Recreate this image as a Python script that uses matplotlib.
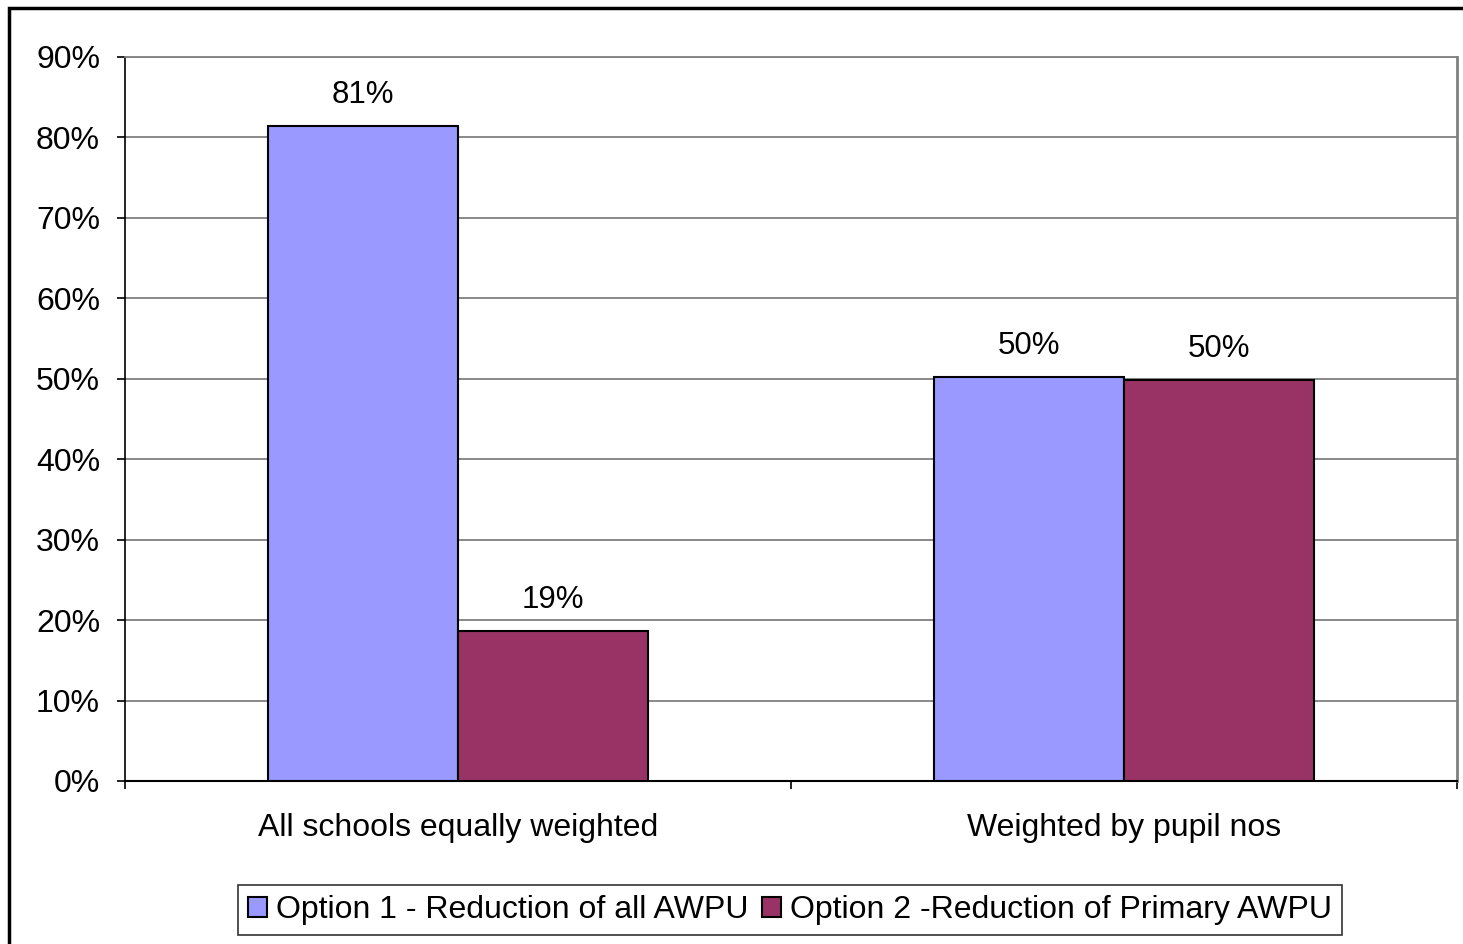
import matplotlib.pyplot as plt
import matplotlib.patches as patches
import numpy as np

plt.rcParams['font.family'] = ['Liberation Sans', 'DejaVu Sans']

# data
categories = ['All schools equally weighted', 'Weighted by pupil nos']
series_names = ['Option 1 - Reduction of all AWPU', 'Option 2 -Reduction of Primary AWPU']
option1 = [0.814, 0.502]
option2 = [0.186, 0.498]
colors = ['#9999FF', '#993366']
yticks = np.arange(0, 1.0, 0.1)

fig = plt.figure(figsize=(14.63, 9.44), dpi=100)
ax = fig.add_axes([125 / 1463, 1 - 781 / 944, 1332 / 1463, 724 / 944])

x = np.arange(len(categories))
w = 1 / 3.5
for vals, off, col, name in [(option1, -w / 2, colors[0], series_names[0]),
                             (option2, w / 2, colors[1], series_names[1])]:
    bars = ax.bar(x + off, vals, width=w, color=col, edgecolor='black',
                  linewidth=1.5, label=name, zorder=3)
    for b, v in zip(bars, vals):
        ax.annotate('%d%%' % round(v * 100), (b.get_x() + b.get_width() / 2, v),
                    xytext=(0, 17), textcoords='offset points',
                    ha='center', va='baseline', fontsize=22.5)

ax.set_xlim(-0.5, 1.5)
ax.set_ylim(0, 0.9)
ax.set_yticks(yticks)
ax.set_yticklabels(['%d%%' % round(t * 100) for t in yticks], fontsize=23)
ax.yaxis.grid(True, color='#808080', linewidth=1.3, zorder=0)
ax.tick_params(axis='y', direction='out', length=6, width=1.2, pad=12)

ax.set_xticks(x)
ax.set_xticklabels(categories, fontsize=23)
ax.set_xticks([-0.5, 0.5, 1.5], minor=True)
ax.tick_params(axis='x', which='major', length=0, pad=23)
ax.tick_params(axis='x', which='minor', direction='out', length=6, width=1.2)

ax.spines['left'].set_color('black')
ax.spines['bottom'].set_color('black')
ax.spines['left'].set_linewidth(1.2)
ax.spines['bottom'].set_linewidth(1.5)
ax.spines['top'].set_color('#808080')
ax.spines['right'].set_color('#808080')
ax.spines['top'].set_linewidth(1.3)
ax.spines['right'].set_linewidth(2)

leg = fig.legend(loc='center', bbox_to_anchor=(790 / 1463, 1 - 910 / 944), ncol=2,
                 fontsize=23, frameon=True, fancybox=False, edgecolor='black',
                 handlelength=0.6, handleheight=0.6, handletextpad=0.3,
                 columnspacing=0.4, borderpad=0.3)
leg.get_frame().set_linewidth(1.2)

# outer chart border
fig.patches.append(patches.Rectangle((9 / 1463, -0.05), 1.2, 1 - 8 / 944 + 0.05,
                                     transform=fig.transFigure, fill=False,
                                     edgecolor='black', linewidth=2.5))

fig.savefig('out.png', dpi=100)
